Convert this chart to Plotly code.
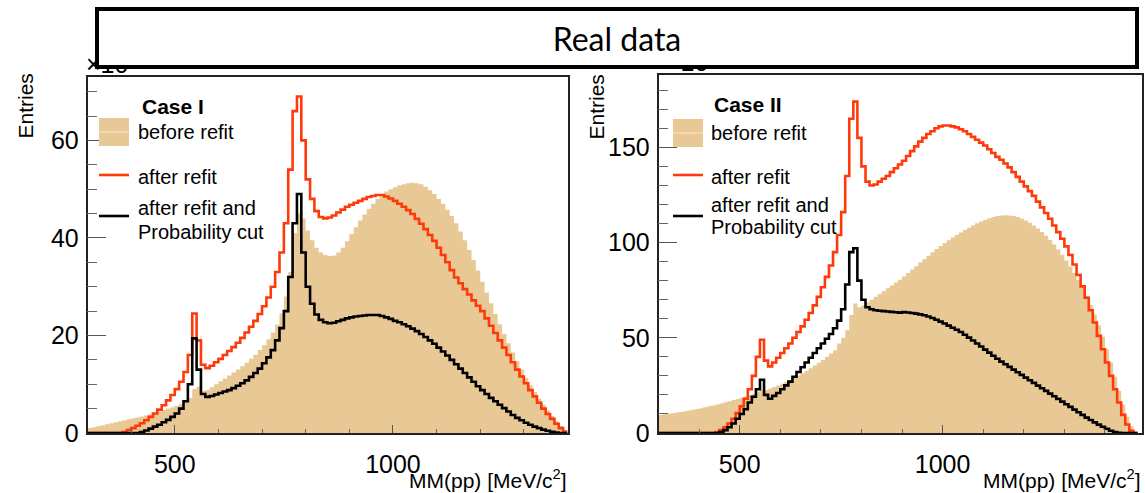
import plotly.graph_objects as go

W, H = 1145, 493

# ---------------- data (bins of 10 MeV/c^2, values in units of 10^3 entries) ----------------
bin_width = 10
left_start = 300
right_start = 300

left_before = [1.0, 1.2, 1.4, 1.6, 1.8, 2.0, 2.2, 2.4, 2.6, 2.8,
               3.0, 3.2, 3.4, 3.6, 3.8, 4.1, 4.4, 4.7, 5.0, 5.3,
               5.6, 6.0, 6.5, 7.2, 9.0, 9.5, 8.6, 8.8, 9.4, 10.0,
               10.6, 11.2, 11.8, 12.4, 13.0, 13.7, 14.4, 15.2, 16.0, 17.0,
               18.0, 19.2, 20.6, 22.2, 24.5, 28.0, 33.0, 41.0, 45.0, 44.0,
               41.5, 39.5, 38.0, 37.0, 36.5, 36.3, 36.4, 37.0, 38.0, 39.3,
               40.8, 42.2, 43.6, 44.8, 46.0, 47.0, 48.0, 48.8, 49.5, 50.0,
               50.4, 50.8, 51.0, 51.2, 51.3, 51.2, 51.0, 50.5, 49.8, 49.0,
               48.0, 47.0, 45.8, 44.5, 43.0, 41.3, 39.5, 37.5, 35.5, 33.3,
               31.0, 28.8, 26.6, 24.4, 22.3, 20.3, 18.4, 16.5, 14.7, 13.0,
               11.3, 9.8, 8.4, 7.0, 5.8, 4.6, 3.5, 2.4, 1.4, 0.5]

left_after = [0, 0, 0, 0, 0, 0, 0, 0, 0.2, 0.6,
              1.0, 1.5, 2.0, 2.6, 3.3, 4.0, 4.8, 5.7, 6.7, 7.8,
              9.0, 10.5, 12.5, 16.0, 24.5, 19.0, 14.0, 13.3, 13.8, 14.5,
              15.2, 16.0, 16.8, 17.6, 18.5, 19.5, 20.6, 21.8, 23.0, 24.4,
              26.0, 27.8, 30.0, 33.0, 37.0, 43.0, 54.0, 66.0, 69.0, 60.0,
              52.0, 48.0, 45.5, 44.3, 44.0, 44.2, 44.6, 45.2, 45.8, 46.4,
              46.8, 47.2, 47.6, 48.0, 48.4, 48.6, 48.8, 48.8, 48.5, 48.1,
              47.6, 47.0, 46.4, 45.7, 44.9, 43.9, 42.9, 41.8, 40.6, 39.4,
              38.0, 36.5, 35.0, 33.4, 31.9, 30.7, 29.5, 28.4, 27.2, 26.1,
              25.0, 23.5, 22.0, 20.5, 19.0, 17.5, 16.0, 14.5, 13.0, 11.6,
              10.2, 8.8, 7.5, 6.2, 5.0, 3.9, 2.9, 1.9, 1.0, 0.3]

left_cut = [0, 0, 0, 0, 0, 0, 0, 0, 0, 0,
            0, 0, 0.2, 0.5, 0.9, 1.3, 1.7, 2.2, 2.7, 3.3,
            4.0, 5.0, 6.5, 10.0, 19.4, 13.0, 8.0, 7.4, 7.6, 7.9,
            8.2, 8.5, 8.8, 9.2, 9.7, 10.2, 10.8, 11.5, 12.3, 13.2,
            14.3, 15.5, 17.0, 19.0, 21.5, 25.0, 32.0, 43.0, 49.0, 37.0,
            30.0, 26.5, 24.3, 23.2, 22.7, 22.5, 22.6, 22.9, 23.2, 23.5,
            23.7, 23.9, 24.0, 24.1, 24.2, 24.2, 24.2, 24.0, 23.7, 23.4,
            23.0, 22.7, 22.3, 21.9, 21.4, 20.9, 20.3, 19.7, 19.0, 18.3,
            17.5, 16.7, 15.9, 15.0, 14.1, 13.2, 12.3, 11.4, 10.5, 9.6,
            8.8, 8.0, 7.2, 6.5, 5.8, 5.1, 4.4, 3.7, 3.1, 2.6,
            2.1, 1.7, 1.3, 1.0, 0.7, 0.45, 0.25, 0.1, 0, 0]

right_before = [9.5, 9.8, 10.1, 10.4, 10.7, 11.0, 11.4, 11.8, 12.2, 12.6,
                13.0, 13.5, 14.0, 14.5, 15.0, 15.5, 16.1, 16.7, 17.3, 17.9,
                18.5, 19.2, 19.9, 20.6, 21.8, 22.5, 22.6, 23.3, 24.1, 25.0,
                25.9, 26.9, 27.9, 29.0, 30.2, 31.4, 32.7, 34.0, 35.4, 36.9,
                38.4, 40.0, 41.7, 43.5, 47.0, 50.0, 54.0, 62.0, 68.0, 66.0,
                67.0, 68.5, 70.0, 71.5, 73.0, 74.5, 76.0, 77.5, 79.0, 80.5,
                82.2, 84.0, 85.8, 87.6, 89.5, 91.3, 93.1, 94.9, 96.6, 98.2,
                99.8, 101.2, 102.6, 104.0, 105.3, 106.6, 107.8, 109.0, 110.1, 111.1,
                112.0, 112.8, 113.4, 113.9, 114.2, 114.3, 114.2, 113.9, 113.4, 112.6,
                111.6, 110.4, 109.0, 107.4, 105.6, 103.6, 101.4, 99.0, 96.4, 93.6,
                90.6, 87.4, 84.0, 80.3, 76.3, 72.0, 67.3, 62.2, 56.6, 50.5,
                44.0, 37.0, 29.5, 22.0, 15.0, 8.5, 3.5, 0.8]

right_after = [0, 0, 0, 0, 0, 0, 0, 0, 0, 0,
               0, 0, 0, 0, 0.5, 1.5, 3.0, 5.0, 7.5, 10.5,
               14.0, 18.0, 23.0, 30.0, 40.0, 49.0, 38.0, 35.0, 37.0, 39.5,
               42.0, 44.5, 47.0, 50.0, 53.0, 56.0, 59.5, 63.0, 67.0, 71.5,
               76.5, 82.0, 88.0, 95.0, 104.0, 116.0, 135.0, 165.0, 174.0, 155.0,
               140.0, 132.0, 130.0, 130.5, 132.0, 133.5, 135.0, 137.0, 139.0, 141.0,
               143.0, 145.5, 148.0, 150.5, 153.0, 155.0, 157.0, 158.5, 160.0, 161.0,
               161.5, 161.5, 161.0, 160.5, 159.5, 158.5, 157.0, 155.5, 154.0, 152.5,
               151.0, 149.0, 147.0, 145.0, 143.5, 141.5, 139.5, 137.0, 134.5, 132.0,
               129.5, 127.0, 124.5, 121.5, 118.5, 115.5, 112.5, 109.0, 105.5, 102.0,
               98.0, 93.5, 88.5, 83.0, 77.0, 71.0, 64.5, 58.0, 51.0, 44.0,
               37.0, 30.0, 23.0, 16.0, 9.5, 4.5, 1.2, 0]

right_cut = [0, 0, 0, 0, 0, 0, 0, 0, 0, 0,
             0, 0, 0, 0, 0, 0.5, 1.5, 3.0, 5.0, 7.5,
             10.0, 12.5, 16.0, 19.0, 23.0, 28.0, 20.0, 18.0, 19.5, 21.0,
             23.0, 25.0, 27.0, 29.5, 32.0, 34.5, 37.0, 39.5, 42.0, 44.5,
             47.0, 49.5, 52.0, 55.0, 59.0, 65.0, 78.0, 95.0, 97.0, 80.0,
             70.0, 66.0, 65.0, 64.5, 64.2, 64.0, 63.8, 63.6, 63.4, 63.2,
             63.5, 63.3, 63.0, 62.7, 62.3, 61.8, 61.2, 60.4, 59.5, 58.5,
             57.5, 56.4, 55.3, 54.2, 53.0, 51.6, 50.1, 48.6, 47.0, 45.4,
             43.8, 42.2, 40.6, 39.0, 37.5, 36.1, 34.7, 33.3, 31.9, 30.5,
             29.1, 27.7, 26.3, 24.9, 23.5, 22.1, 20.7, 19.3, 17.9, 16.5,
             15.1, 13.7, 12.3, 10.9, 9.5, 8.1, 6.8, 5.6, 4.4, 3.3,
             2.2, 1.2, 0.5, 0.1, 0, 0, 0, 0]

left_xticks = [500, 1000]
left_yticks = [0, 20, 40, 60]
right_xticks = [500, 1000]
right_yticks = [0, 50, 100, 150]

legend_labels = ["before refit", "after refit", ["after refit and", "Probability cut"]]
case_titles = ["Case I", "Case II"]
title_text = "Real data"
x_title = "MM(pp) [MeV/c<sup>2</sup>]"
y_title = "Entries"

TAN = "#E8C996"
RED = "#FF3A0A"
BLACK = "#000000"
FONT = "Liberation Sans, Arial, Helvetica, sans-serif"


def steps(start, values):
    xs = [start + i * bin_width for i in range(len(values) + 1)]
    ys = list(values) + [values[-1]]
    return xs, ys


def px(x):
    return x / W


def py(y):
    return 1 - y / H


fig = go.Figure()

for (start, before, after, cut, xa, ya) in [
    (left_start, left_before, left_after, left_cut, "x", "y"),
    (right_start, right_before, right_after, right_cut, "x2", "y2"),
]:
    xs, ys = steps(start, before)
    fig.add_trace(go.Scatter(x=xs, y=ys, mode="lines", line=dict(shape="hv", width=0, color=TAN),
                             fill="tozeroy", fillcolor=TAN, xaxis=xa, yaxis=ya, showlegend=False,
                             hoverinfo="skip"))
    xs, ys = steps(start, after)
    fig.add_trace(go.Scatter(x=xs, y=ys, mode="lines", line=dict(shape="hv", width=2.6, color=RED),
                             xaxis=xa, yaxis=ya, showlegend=False))
    xs, ys = steps(start, cut)
    fig.add_trace(go.Scatter(x=xs, y=ys, mode="lines", line=dict(shape="hv", width=2.6, color=BLACK),
                             xaxis=xa, yaxis=ya, showlegend=False))

L = dict(x0=87.5, x1=567.5, y0=77, y1=433)
R = dict(x0=658.5, x1=1141.5, y0=75, y1=433)

common_x = dict(showgrid=False, zeroline=False, ticks="inside", ticklen=8, tickwidth=1, tickcolor="#555",
                showline=True, linecolor="#222", linewidth=1.5, mirror=True, automargin=False,
                tickfont=dict(family=FONT, size=25, color="black"), ticklabelstandoff=8,
                minor=dict(ticks="inside", dtick=100, ticklen=4, tickcolor="#666"),
                layer="above traces")
common_y = dict(showgrid=False, zeroline=False, ticks="inside", ticklen=19, tickwidth=1, tickcolor="#555",
                showline=True, linecolor="#222", linewidth=1.5, mirror=True, automargin=False,
                tickfont=dict(family=FONT, size=25, color="black"), ticklabelstandoff=2,
                layer="above traces")

fig.update_layout(
    width=W, height=H, margin=dict(l=0, r=0, t=0, b=0, autoexpand=False),
    paper_bgcolor="white", plot_bgcolor="white", showlegend=False,
    xaxis=dict(common_x, domain=[px(L["x0"]), px(L["x1"])], range=[300, 1400], tickvals=left_xticks,
               anchor="y"),
    yaxis=dict(common_y, domain=[py(L["y1"]), py(L["y0"])], range=[0, 73], tickvals=left_yticks,
               minor=dict(ticks="inside", dtick=5, ticklen=10, tickcolor="#666"), anchor="x"),
    xaxis2=dict(common_x, domain=[px(R["x0"]), px(R["x1"])], range=[300, 1490], tickvals=right_xticks,
                anchor="y2"),
    yaxis2=dict(common_y, domain=[py(R["y1"]), py(R["y0"])], range=[0, 188], tickvals=right_yticks,
                minor=dict(ticks="inside", dtick=10, ticklen=10, tickcolor="#666"), anchor="x2"),
)

shapes = []
annotations = []

LEG_FONT = 20
# legends
for (box, case, sw_x0, title_x, title_y, txt_x, y_before, y_red, y_blk, y_t1, y_t2) in [
    (L, case_titles[0], 99, 140, 107, 136, 132, 175, 216, 208, 232),
    (R, case_titles[1], 673, 712, 104, 709, 133, 175, 216, 205, 227),
]:
    sw_x1 = sw_x0 + 30
    shapes.append(dict(type="rect", xref="paper", yref="paper", x0=px(sw_x0), x1=px(sw_x1),
                       y0=py(y_before + 14), y1=py(y_before - 14), fillcolor=TAN, line=dict(width=0),
                       layer="above"))
    shapes.append(dict(type="line", xref="paper", yref="paper", x0=px(sw_x0), x1=px(sw_x1),
                       y0=py(y_before), y1=py(y_before), line=dict(color="#F7E9D2", width=1),
                       layer="above"))
    shapes.append(dict(type="line", xref="paper", yref="paper", x0=px(sw_x0), x1=px(sw_x1),
                       y0=py(y_red), y1=py(y_red), line=dict(color=RED, width=2.6), layer="above"))
    shapes.append(dict(type="line", xref="paper", yref="paper", x0=px(sw_x0), x1=px(sw_x1),
                       y0=py(y_blk), y1=py(y_blk), line=dict(color=BLACK, width=2.6), layer="above"))
    annotations.append(dict(text="<b>" + case + "</b>", x=px(title_x), y=py(title_y), xref="paper",
                            yref="paper", xanchor="left", yanchor="middle", showarrow=False,
                            font=dict(family=FONT, size=21, color="black")))
    annotations.append(dict(text=legend_labels[0], x=px(txt_x), y=py(y_before), xref="paper",
                            yref="paper", xanchor="left", yanchor="middle", showarrow=False,
                            font=dict(family=FONT, size=LEG_FONT, color="black")))
    annotations.append(dict(text=legend_labels[1], x=px(txt_x), y=py(y_red + 2), xref="paper",
                            yref="paper", xanchor="left", yanchor="middle", showarrow=False,
                            font=dict(family=FONT, size=LEG_FONT, color="black")))
    annotations.append(dict(text=legend_labels[2][0], x=px(txt_x), y=py(y_t1), xref="paper",
                            yref="paper", xanchor="left", yanchor="middle", showarrow=False,
                            font=dict(family=FONT, size=LEG_FONT, color="black")))
    annotations.append(dict(text=legend_labels[2][1], x=px(txt_x), y=py(y_t2), xref="paper",
                            yref="paper", xanchor="left", yanchor="middle", showarrow=False,
                            font=dict(family=FONT, size=LEG_FONT, color="black")))

    # axis titles
    annotations.append(dict(text=x_title, x=px(box["x1"] + 1), y=py(479), xref="paper", yref="paper",
                            xanchor="right", yanchor="middle", showarrow=False,
                            font=dict(family=FONT, size=21, color="black")))

annotations.append(dict(text=y_title, x=px(25), y=py(72), xref="paper", yref="paper", textangle=-90,
                        xanchor="center", yanchor="top", showarrow=False,
                        font=dict(family=FONT, size=21, color="black")))
annotations.append(dict(text=y_title, x=px(596), y=py(72), xref="paper", yref="paper", textangle=-90,
                        xanchor="center", yanchor="top", showarrow=False,
                        font=dict(family=FONT, size=21, color="black")))

# exponent labels (partly hidden by the title box)
annotations.append(dict(text="×10<sup>3</sup>", x=px(84), y=py(80), xref="paper", yref="paper",
                        xanchor="left", yanchor="bottom", showarrow=False,
                        font=dict(family=FONT, size=25, color="black")))
annotations.append(dict(text="×10<sup>3</sup>", x=px(664), y=py(78), xref="paper", yref="paper",
                        xanchor="left", yanchor="bottom", showarrow=False,
                        font=dict(family=FONT, size=25, color="black")))

# title box shadow + box
annotations.append(dict(text="", x=px(618.5), y=py(40), xref="paper", yref="paper",
                        xanchor="center", yanchor="middle", showarrow=False, width=1040, height=58,
                        bgcolor="#9a9a9a", borderwidth=0, borderpad=0))
annotations.append(dict(text=title_text, x=px(616.5), y=py(38), xref="paper", yref="paper",
                        xanchor="center", yanchor="middle", showarrow=False, width=1036, height=54,
                        bgcolor="white", bordercolor="black", borderwidth=4, borderpad=0,
                        font=dict(family="Lato, Inter, sans-serif", size=32, color="black")))

fig.update_layout(shapes=shapes, annotations=annotations)
fig.write_html("out.html")
